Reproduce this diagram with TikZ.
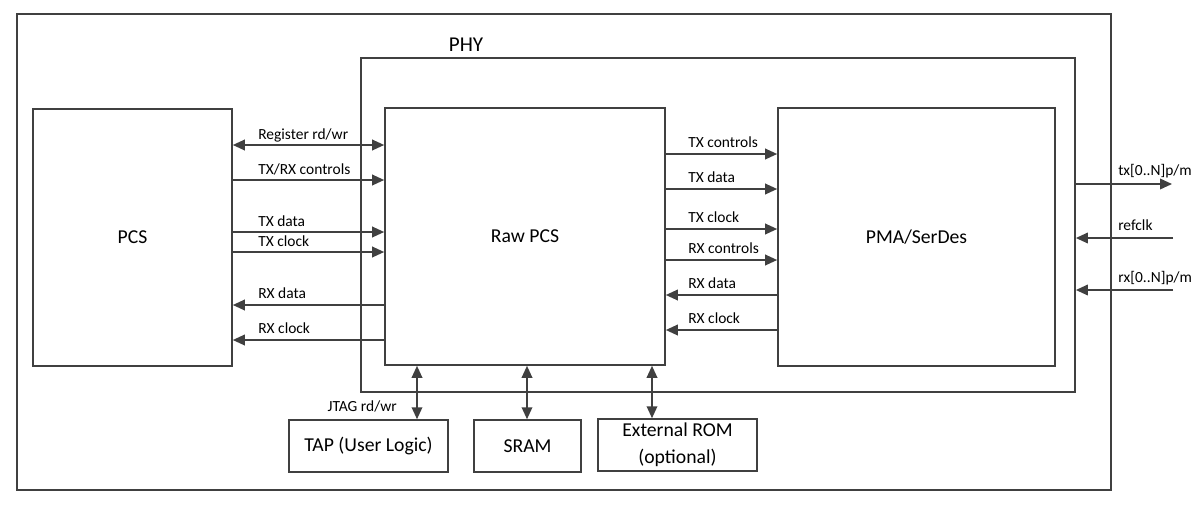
\documentclass[tikz,border=0pt]{standalone}
\usepackage{fontspec}
\setmainfont{Carlito}
\usetikzlibrary{arrows.meta,positioning}

\begin{document}
\begin{tikzpicture}[%
            x=0.025cm, y=-0.025cm,
            >={Triangle[length=8.5pt,width=7.5pt]},
            block/.style={draw=black!75, line width=1.1pt, inner sep=0pt, align=center, font=\fontsize{14}{17}\selectfont},
            sig/.style={font=\fontsize{11}{13}\selectfont, anchor=base west, inner sep=0pt},
            wire/.style={draw=black!75, line width=1.2pt}
            ]
            \useasboundingbox (0,0) rectangle (1203,508);

            % frames
            \node[block, minimum width=27.35cm, minimum height=11.9cm] (outer) at (564,252) {};
            \node[block, minimum width=17.85cm, minimum height=8.35cm] (phy) at (718,225) {};
            \node[anchor=base, inner sep=0pt, font=\fontsize{15}{18}\selectfont] (phylabel) at (466,51) {PHY};

            % main blocks
            \node[block, minimum width=4.975cm, minimum height=6.425cm] (pcs) at (132.5,237.5) {PCS};
            \node[block, minimum width=7cm, minimum height=6.425cm] (raw) at (525,236.5) {Raw PCS};
            \node[block, minimum width=6.925cm, minimum height=6.45cm] (pma) at (916.5,237) {PMA/SerDes};

            % memories
            \node[block, minimum width=3.975cm, minimum height=1.3cm] (tap) at (368.5,446) {TAP (User Logic)};
            \node[block, minimum width=2.675cm, minimum height=1.3cm] (sram) at (527.5,446) {SRAM};
            \node[block, minimum width=3.975cm, minimum height=1.3cm, font=\fontsize{14}{19}\selectfont] (rom) at (677.5,445) {External ROM\\(optional)};

            % PCS <-> Raw PCS
            \draw[wire,<->] (pcs.east |- 0,145) -- (raw.west |- 0,145);
            \node[sig] at (258,139) {Register rd/wr};
            \foreach \y/\txt in {180/{TX/RX controls}, 232/TX data, 252/TX clock}{
                \draw[wire,->] (pcs.east |- 0,\y) -- (raw.west |- 0,\y);
                \node[sig] at (258,\y-6) {\txt};
            }
            \foreach \y/\txt in {305/RX data, 340/RX clock}{
                \draw[wire,->] (raw.west |- 0,\y) -- (pcs.east |- 0,\y);
                \node[sig] at (258,\y-7) {\txt};
            }

            % Raw PCS <-> PMA
            \foreach \y/\txt in {154/TX controls, 189/TX data, 229/TX clock, 260/RX controls}{
                \draw[wire,->] (raw.east |- 0,\y) -- (pma.west |- 0,\y);
                \node[sig] at (688,\y-7) {\txt};
            }
            \foreach \y/\txt in {295/RX data, 330/RX clock}{
                \draw[wire,->] (pma.west |- 0,\y) -- (raw.east |- 0,\y);
                \node[sig] at (688,\y-7) {\txt};
            }

            % serial side
            \coordinate (txout) at (1172,184);
            \coordinate (refin) at (1173,238);
            \coordinate (rxin) at (1173,290);
            \draw[wire,->] (phy.east |- txout) -- (txout);
            \draw[wire,->] (refin) -- (phy.east |- refin);
            \draw[wire,->] (rxin) -- (phy.east |- rxin);
            \node[sig] at (1118,175) {tx[0..N]p/m};
            \node[sig] at (1118,230) {refclk};
            \node[sig] at (1118,282) {rx[0..N]p/m};

            % bottom links
            \draw[wire,<->] (raw.south -| 417,0) -- (tap.north -| 417,0);
            \draw[wire,<->] (raw.south -| 527,0) -- (sram.north -| 527,0);
            \draw[wire,<->] (raw.south -| 652,0) -- (rom.north -| 652,0);
            \node[sig, anchor=base east] at (397,411) {JTAG rd/wr};

        \end{tikzpicture}
\end{document}
